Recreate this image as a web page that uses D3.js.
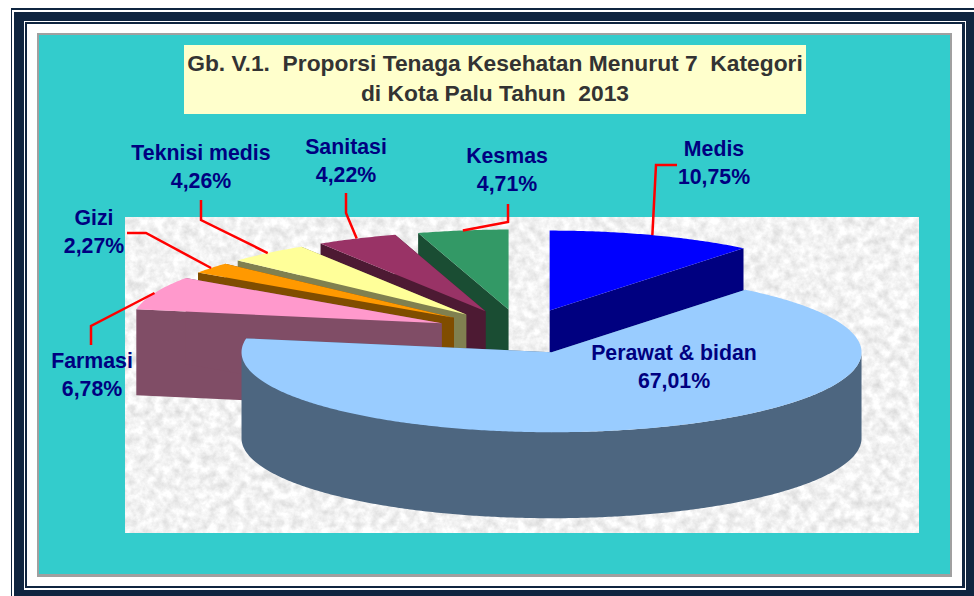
<!DOCTYPE html>
<html>
<head>
<meta charset="utf-8">
<script src="https://d3js.org/d3.v7.min.js"></script>
<style>
  html, body { margin: 0; padding: 0; background: #fff; overflow: hidden; }
  svg { display: block; }
  text { font-family: "Liberation Sans", Arial, sans-serif; font-weight: bold; white-space: pre; }
</style>
</head>
<body>
<svg id="chart" width="974" height="596"></svg>
<script>
const CATEGORIES = ['Medis', 'Perawat & bidan', 'Farmasi', 'Gizi', 'Teknisi medis', 'Sanitasi', 'Kesmas'];
const VALUES = [10.75, 67.01, 6.78, 2.27, 4.26, 4.22, 4.71];
const VALUE_LABELS = ['10,75%', '67,01%', '6,78%', '2,27%', '4,26%', '4,22%', '4,71%'];
const TOP_COLORS = ['#0000ff', '#99ccff', '#ff99cc', '#ff9900', '#ffff99', '#993366', '#339966'];
const SIDE_COLORS = ['#000080', '#4d6680', '#804d66', '#804d00', '#808050', '#4d1a33', '#1a4d33'];
const TITLE_LINES = ['Gb. V.1.  Proporsi Tenaga Kesehatan Menurut 7  Kategori', 'di Kota Palu Tahun  2013'];

// layout only
const CX = 521.2, CY = 331.5, RX = 310, RY = 80, EXPLODE = 0.277;
const DEPTH = 86;
const DRAW_ORDER = [6, 5, 4, 3, 2, 0, 1];
const LABEL_POS = [[714, 156], [674, 360], [92, 368], [94, 225], [201, 160], [346, 154], [507, 163]];
// elbows of the red leaders, the first point comes from the slice itself
const ELBOWS = [
  [[656, 165], [677, 165]],
  null,
  [[91, 326], [91, 345]],
  [[146, 233], [127, 233]],
  [[201, 220], [201, 200]],
  [[346, 213], [346, 193]],
  [[508, 222], [508, 204]]
];
const FRAME = [
  [11, 8, 980, 600, '#0f2540'],
  [12, 10, 978, 600, '#fff'],
  [14, 12, 976, 600, '#0f2540'],
  [24, 21, 966, 590, '#fff'],
  [25, 22, 965, 588, '#0f2540'],
  [27, 24, 962, 586, '#fff'],
  [37, 33, 952, 577, '#a0a0a0'],
  [39, 35, 950, 574, '#33cccc']
];

const svg = d3.select('#chart');

const filter = svg.append('defs').append('filter')
  .attr('id', 'marble')
  .attr('x', 0).attr('y', 0).attr('width', 1).attr('height', 1)
  .attr('color-interpolation-filters', 'sRGB');
filter.append('feTurbulence')
  .attr('type', 'fractalNoise')
  .attr('baseFrequency', 0.11)
  .attr('numOctaves', 4)
  .attr('seed', 7);
filter.append('feColorMatrix')
  .attr('type', 'matrix')
  .attr('values', '0.24 0 0 0 0.83  0.24 0 0 0 0.83  0.24 0 0 0 0.83  0 0 0 0 1');

svg.selectAll('rect.frame')
  .data(FRAME)
  .enter()
  .append('rect')
  .attr('class', 'frame')
  .attr('x', d => d[0])
  .attr('y', d => d[1])
  .attr('width', d => d[2] - d[0])
  .attr('height', d => d[3] - d[1])
  .attr('fill', d => d[4]);

// title
svg.append('rect').attr('x', 184).attr('y', 45).attr('width', 622).attr('height', 69).attr('fill', '#ffffcc');
svg.selectAll('text.title')
  .data(TITLE_LINES)
  .enter()
  .append('text')
  .attr('class', 'title')
  .attr('x', 495)
  .attr('y', (d, i) => 71 + i * 29.5)
  .attr('text-anchor', 'middle')
  .attr('font-size', 22.8)
  .attr('fill', '#333333')
  .text(d => d);

// textured plot area
svg.append('rect').attr('x', 125).attr('y', 217).attr('width', 794).attr('height', 316)
  .attr('filter', 'url(#marble)');

// slices
const arcs = d3.pie().sort(null).value(d => d)(VALUES);

function apex(i) {
  const mid = (arcs[i].startAngle + arcs[i].endAngle) / 2;
  return [CX + EXPLODE * RX * Math.sin(mid), CY - EXPLODE * RY * Math.cos(mid)];
}

function rim(i, a) {
  const c = apex(i);
  return [c[0] + RX * Math.sin(a), c[1] - RY * Math.cos(a)];
}

function lowRim(i, a) {
  const p = rim(i, a);
  return [p[0], p[1] + DEPTH];
}

function rimPoints(i, fn, from, to) {
  const n = Math.max(2, Math.ceil((to - from) / 0.01));
  const t = d3.scaleLinear().domain([0, n]).range([from, to]);
  return d3.range(n + 1).map(k => fn(i, t(k)));
}

const line = d3.line();
const closed = pts => line(pts) + 'Z';
const chart = svg.append('g');

DRAW_ORDER.forEach(i => {
  const c = apex(i), a = arcs[i];
  const low = [c[0], c[1] + DEPTH];
  const g = chart.append('g');
  const side = pts => g.append('path').attr('d', closed(pts)).attr('fill', SIDE_COLORS[i]);

  // both cut faces
  side([c, rim(i, a.startAngle), lowRim(i, a.startAngle), low]);
  side([c, rim(i, a.endAngle), lowRim(i, a.endAngle), low]);
  // outer wall, only the part that faces the viewer
  const from = Math.max(a.startAngle, Math.PI / 2), to = Math.min(a.endAngle, Math.PI * 1.5);
  if (from < to) side(rimPoints(i, rim, from, to).concat(rimPoints(i, lowRim, from, to).reverse()));
  // top
  g.append('path')
    .attr('d', closed([c].concat(rimPoints(i, rim, a.startAngle, a.endAngle))))
    .attr('fill', TOP_COLORS[i]);
});

// leaders
ELBOWS.forEach((elbow, i) => {
  if (!elbow) return;
  const mid = (arcs[i].startAngle + arcs[i].endAngle) / 2;
  svg.append('path')
    .attr('d', line([rim(i, mid)].concat(elbow)))
    .attr('fill', 'none')
    .attr('stroke', '#ff0000')
    .attr('stroke-width', 2.5);
});

// labels
CATEGORIES.forEach((name, i) => {
  const t = svg.append('text')
    .attr('text-anchor', 'middle')
    .attr('font-size', 21.3)
    .attr('fill', '#000080');
  t.append('tspan').attr('x', LABEL_POS[i][0]).attr('y', LABEL_POS[i][1]).text(name);
  t.append('tspan').attr('x', LABEL_POS[i][0]).attr('y', LABEL_POS[i][1] + 28).text(VALUE_LABELS[i]);
});
</script>
</body>
</html>
